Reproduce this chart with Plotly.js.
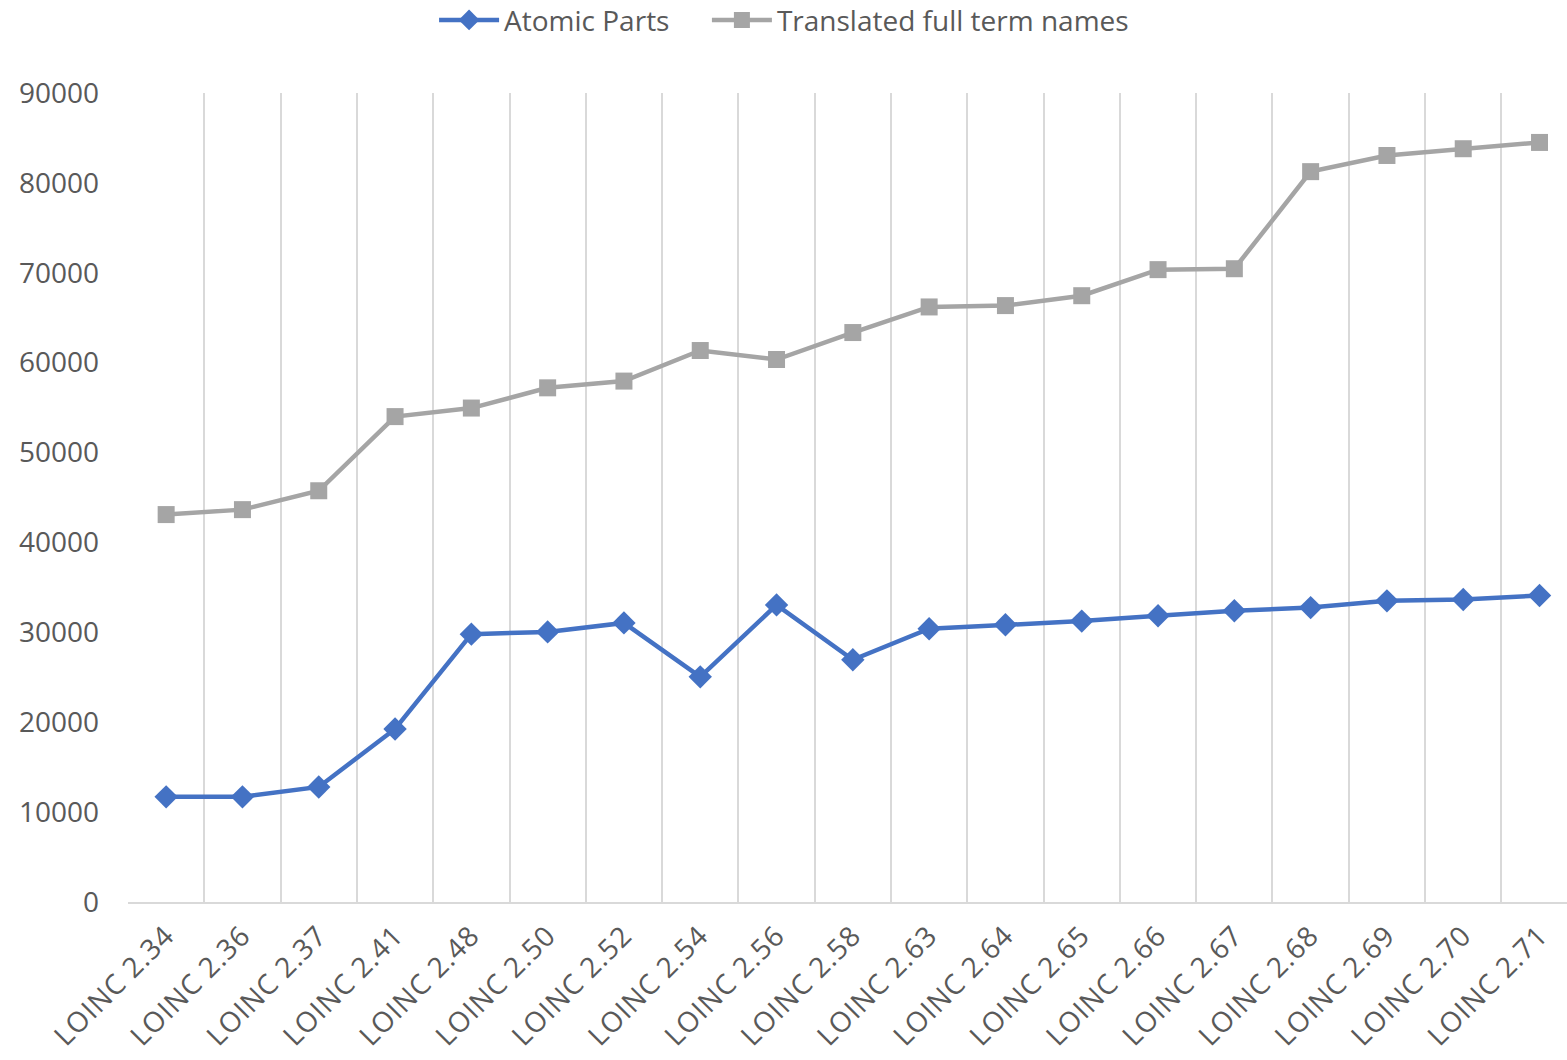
<!DOCTYPE html>
<html>
<head>
<meta charset="utf-8">
<script src="https://cdn.plot.ly/plotly-3.0.1.min.js"></script>
<style>html,body{margin:0;padding:0;background:#fff;}#chart{width:1567px;height:1060px;}
.xtick text{letter-spacing:1px;}</style>
</head>
<body>
<div id="chart"></div>
<script>
const categories = ["LOINC 2.34","LOINC 2.36","LOINC 2.37","LOINC 2.41","LOINC 2.48","LOINC 2.50","LOINC 2.52","LOINC 2.54","LOINC 2.56","LOINC 2.58","LOINC 2.63","LOINC 2.64","LOINC 2.65","LOINC 2.66","LOINC 2.67","LOINC 2.68","LOINC 2.69","LOINC 2.70","LOINC 2.71"];
const atomicParts = [11700,11700,12800,19250,29800,30050,31050,25050,33050,26950,30400,30850,31250,31850,32400,32750,33500,33650,34100];
const translatedNames = [43100,43650,45750,54000,54950,57200,57950,61350,60350,63350,66200,66350,67450,70350,70450,81250,83050,83800,84500];
const seriesNames = ["Atomic Parts","Translated full term names"];
const yTicks = [0,10000,20000,30000,40000,50000,60000,70000,80000,90000];

const traces = [
  {x: categories, y: atomicParts, name: seriesNames[0], type: 'scatter', mode: 'lines+markers', legend: 'legend',
   line: {color: '#4472C4', width: 4.5}, marker: {symbol: 'diamond', size: 18, color: '#4472C4'}},
  {x: categories, y: translatedNames, name: seriesNames[1], type: 'scatter', mode: 'lines+markers', legend: 'legend2',
   line: {color: '#A5A5A5', width: 4.5}, marker: {symbol: 'square', size: 17, color: '#A5A5A5'}}
];

const legendBase = {orientation: 'h', xanchor: 'left', y: 1.09, yanchor: 'middle',
  font: {size: 28, color: '#595959'}, itemwidth: 60, bgcolor: 'rgba(0,0,0,0)'};

const layout = {
  width: 1567, height: 1060,
  margin: {l: 128, r: 0, t: 93, b: 158, autoexpand: false},
  paper_bgcolor: '#fff', plot_bgcolor: '#fff',
  font: {family: 'Open Sans, sans-serif', size: 26, color: '#595959'},
  showlegend: true,
  legend: Object.assign({}, legendBase, {x: 0.2127}),
  legend2: Object.assign({}, legendBase, {x: 0.4023}),
  xaxis: {
    type: 'category', range: [-0.5, 18.36], tickson: 'boundaries',
    showgrid: true, gridcolor: '#D9D9D9', gridwidth: 2,
    showline: true, linecolor: '#D9D9D9', linewidth: 2,
    ticks: '', tickangle: -45, tickfont: {size: 28, color: '#595959'},
    ticklabelstandoff: 4, automargin: false,
    zeroline: false, fixedrange: true
  },
  yaxis: {
    range: [0, 90000], tickvals: yTicks, ticktext: yTicks.map(String),
    showgrid: false, zeroline: false, showline: false, ticks: '', automargin: false,
    ticklabelstandoff: 28, tickfont: {size: 28, color: '#595959'}, fixedrange: true
  }
};

Plotly.newPlot('chart', traces, layout, {displayModeBar: false, staticPlot: true});
</script>
</body>
</html>
